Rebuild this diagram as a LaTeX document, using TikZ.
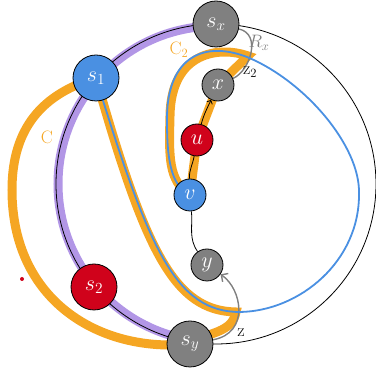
\RequirePackage{fix-cm}
\documentclass[tikz,border=0pt]{standalone}
\usetikzlibrary{arrows.meta,backgrounds}
\definecolor{cgray}{RGB}{128,128,128}
\definecolor{cblue}{RGB}{74,144,226}
\definecolor{cred}{RGB}{208,2,27}
\definecolor{corange}{RGB}{245,166,35}
\definecolor{cpurple}{RGB}{178,150,230}
\begin{document}
\begin{tikzpicture}[x=1pt,y=1pt,line join=round,line cap=round,
  >={Straight Barb[length=3pt,width=6pt]},
  vbig/.style={circle,draw=black,line width=0.8pt,minimum size=46pt,inner sep=0pt,text=white,font=\fontsize{22}{24}\selectfont},
  vsmall/.style={vbig,minimum size=32pt},
  band/.style={line width=9pt,corange},
  route/.style={line width=1.8pt,cblue},
  reach/.style={line width=1.4pt,cgray},
  lbl/.style={font=\fontsize{18}{20}\selectfont}]
\useasboundingbox (0,0) rectangle (376,371);
\path
(216,187) coordinate (O)
(22,92) coordinate (R)
;
\node[vbig,fill=cgray] (sx) at (216,347) {$s_x$};
\node[vbig,fill=cblue] (s1) at (96,293) {$s_1$};
\node[vbig,fill=cred] (s2) at (94,84) {$s_2$};
\node[vbig,fill=cgray] (sy) at (190,27) {$s_y$};
\node[vsmall,fill=cgray] (x) at (218,286) {$x$};
\node[vsmall,fill=cred] (u) at (197,231) {$u$};
\node[vsmall,fill=cblue] (v) at (190,176) {$v$};
\node[vsmall,fill=cgray] (y) at (207,106) {$y$};
\node[lbl,corange] (lC) at (47,234) {C};
\node[lbl,corange] (lC2) at (179,321) {C$_2$};
\node[lbl,cgray] (lRx) at (259,328) {$R_x$};
\node[lbl] (lz2) at (250,299) {z$_2$};
\node[lbl] (lz) at (241,38) {z};
\begin{pgfonlayer}{background}
% the cycle and the left arc
\draw[cpurple,line width=9pt] (O) ++(90:158) arc[start angle=90,end angle=261,radius=158];
\draw[line width=0.8pt] (O) circle[radius=160];
% C
\draw[band] (s1.center) .. controls (35,275) and (12,235) .. (12,181)
  .. controls (12,70) and (100,18) .. (sy.center);
\draw[band] (s1.center) .. controls (145,121) and (174,60) .. (236,59)
  to[out=-100,in=35] (sy.center);
% C_2
\draw[band] (v.center) .. controls (168,190) and (169,215) .. (170,255)
  .. controls (171,320) and (220,325) .. (248,315)
  -- (x.center) -- (u.center) -- (v.center);
% paths
\draw[line width=0.8pt] (v) to[out=-85,in=125] (y);
\draw[line width=0.8pt] (v) to[out=92,in=-100] (u);
\draw[line width=0.8pt,->] (u) to[out=75,in=-115] (x);
\draw[reach,-{Straight Barb[length=5pt,width=10pt]}] (sy) .. controls (250,38) and (242,82) .. (y);
\draw[reach] (sx) .. controls (262,337) and (250,300) .. (x);
\draw[route] (s1.center) .. controls (149,121) and (176,59) .. (240,59)
  .. controls (300,60) and (360,110) .. (359,178)
  .. controls (360,225) and (305,290) .. (247,314)
  .. controls (200,332) and (166,310) .. (167,250)
  .. controls (167,215) and (170,185) .. (v.center);
\fill[cred] (R) circle[radius=2];
\end{pgfonlayer}
\end{tikzpicture}
\end{document}
